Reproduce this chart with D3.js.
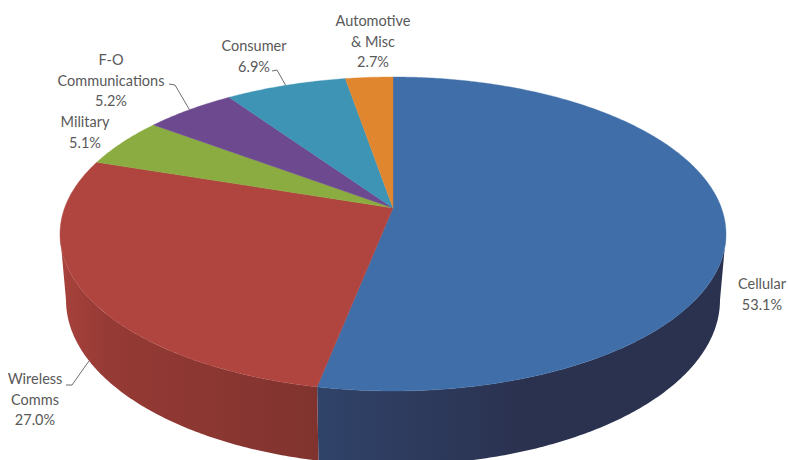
<!DOCTYPE html>
<html>
<head>
<meta charset="utf-8">
<script src="https://cdn.jsdelivr.net/npm/d3@7/dist/d3.min.js"></script>
<style>
  html, body { margin: 0; padding: 0; background: #fff; }
  svg { display: block; }
  text { font-family: Lato, "Open Sans", sans-serif; font-size: 14.5px; fill: #595959; text-anchor: middle; }
</style>
</head>
<body>
<svg id="chart" width="788" height="460"></svg>
<script>
// Market share by segment
const segments = ["Cellular", "Wireless Comms", "Military", "F-O Communications", "Consumer", "Automotive & Misc"];
const shares = [53.1, 27.0, 5.1, 5.2, 6.9, 2.7];

// Slice colours: top face, and wall shading from its left to its right side
const topColors = ["#3f6ea8", "#b0443e", "#8bac40", "#6d4a90", "#3d94b5", "#e0862f"];
const wallLeftColors = ["#304369", "#a8423c"];
const wallRightColors = ["#2b3250", "#80332e"];

// Label text lines and where each block sits
const labelLines = [
  ["Cellular", "53.1%"],
  ["Wireless", "Comms", "27.0%"],
  ["Military", "5.1%"],
  ["F-O", "Communications", "5.2%"],
  ["Consumer", "6.9%"],
  ["Automotive", "& Misc", "2.7%"]
];
const labelCenters = [762, 35, 85, 111, 254, 373];
const labelBaselines = [289, 384, 127, 65, 51, 26];
const lineGap = 20.5;

// Leader lines: horizontal stub start, elbow; the far end lands on the slice's rim
const leaders = [
  { slice: 1, from: [66, 385], elbow: [72, 385], rim: "lower" },
  { slice: 3, from: [169, 84], elbow: [175, 85], rim: "upper" },
  { slice: 4, from: [272, 71], elbow: [277, 70], rim: "upper" }
];

// Perspective view of the disc
const view = { cx: 393, apexY: 208, radius: 328.4, depth: 152.7, tilt: 0.1656 };
const upperCy = 234, lowerCy = 300, lowerScaleX = 327 / 333, lowerScaleY = 165 / 157;

function projectUpper(angle) {
  const u = Math.sin(angle), v = -Math.cos(angle);
  const w = 1 - view.tilt * v;
  return [view.cx + view.radius * u / w, view.apexY + view.depth * v / w];
}
function projectLower(angle) {
  const [x, y] = projectUpper(angle);
  return [view.cx + (x - view.cx) * lowerScaleX, lowerCy + (y - upperCy) * lowerScaleY];
}

const svg = d3.select("#chart");
const defs = svg.append("defs");
const pathLine = d3.line();
const arcs = d3.pie().sort(null).startAngle(0).endAngle(2 * Math.PI)(shares);

const sampleAngles = (a0, a1) => {
  const n = Math.max(2, Math.ceil((a1 - a0) / 0.01));
  return d3.range(n + 1).map(i => a0 + (a1 - a0) * i / n);
};

// Visible wall runs between the two silhouette angles
const silhouette = Math.acos(-view.tilt);
const wallStart = silhouette, wallEnd = 2 * Math.PI - silhouette;

arcs.forEach((d, i) => {
  const a0 = Math.max(d.startAngle, wallStart);
  const a1 = Math.min(d.endAngle, wallEnd);
  if (a1 <= a0) return;
  const angles = sampleAngles(a0, a1);
  const upper = angles.map(projectUpper);
  const lower = angles.map(projectLower).reverse();
  const xs = upper.concat(lower).map(p => p[0]);
  const gradId = "wall" + i;
  const grad = defs.append("linearGradient")
    .attr("id", gradId)
    .attr("gradientUnits", "userSpaceOnUse")
    .attr("x1", d3.min(xs)).attr("x2", d3.max(xs)).attr("y1", 0).attr("y2", 0);
  // Cellular darkens left to right; Wireless darkens the other way from its outer edge
  grad.append("stop").attr("offset", 0).attr("stop-color", wallLeftColors[i]);
  grad.append("stop").attr("offset", i === 0 ? 0.5 : 0.18).attr("stop-color", i === 0 ? wallRightColors[i] : "#963a35");
  grad.append("stop").attr("offset", 1).attr("stop-color", wallRightColors[i]);
  svg.append("path")
    .attr("d", pathLine(upper.concat(lower)) + "Z")
    .attr("fill", `url(#${gradId})`);
});

// Top faces
arcs.forEach((d, i) => {
  const rim = sampleAngles(d.startAngle, d.endAngle).map(projectUpper);
  svg.append("path")
    .attr("d", pathLine([[view.cx, view.apexY]].concat(rim)) + "Z")
    .attr("fill", topColors[i])
    .attr("stroke", topColors[i])
    .attr("stroke-width", 0.4)
    .attr("stroke-linejoin", "round");
});

// Leader lines
leaders.forEach(l => {
  const d = arcs[l.slice];
  const mid = (d.startAngle + d.endAngle) / 2;
  const end = l.rim === "upper" ? projectUpper(mid) : projectLower(mid);
  svg.append("path")
    .attr("d", pathLine([l.from, l.elbow, end]))
    .attr("fill", "none")
    .attr("stroke", "#6e6e6e")
    .attr("stroke-width", 1);
});

// Labels
labelLines.forEach((lines, i) => {
  const t = svg.append("text").attr("aria-label", segments[i]);
  lines.forEach((s, j) => {
    t.append("tspan")
      .attr("x", labelCenters[i])
      .attr("y", labelBaselines[i] + j * lineGap)
      .text(s);
  });
});
</script>
</body>
</html>
